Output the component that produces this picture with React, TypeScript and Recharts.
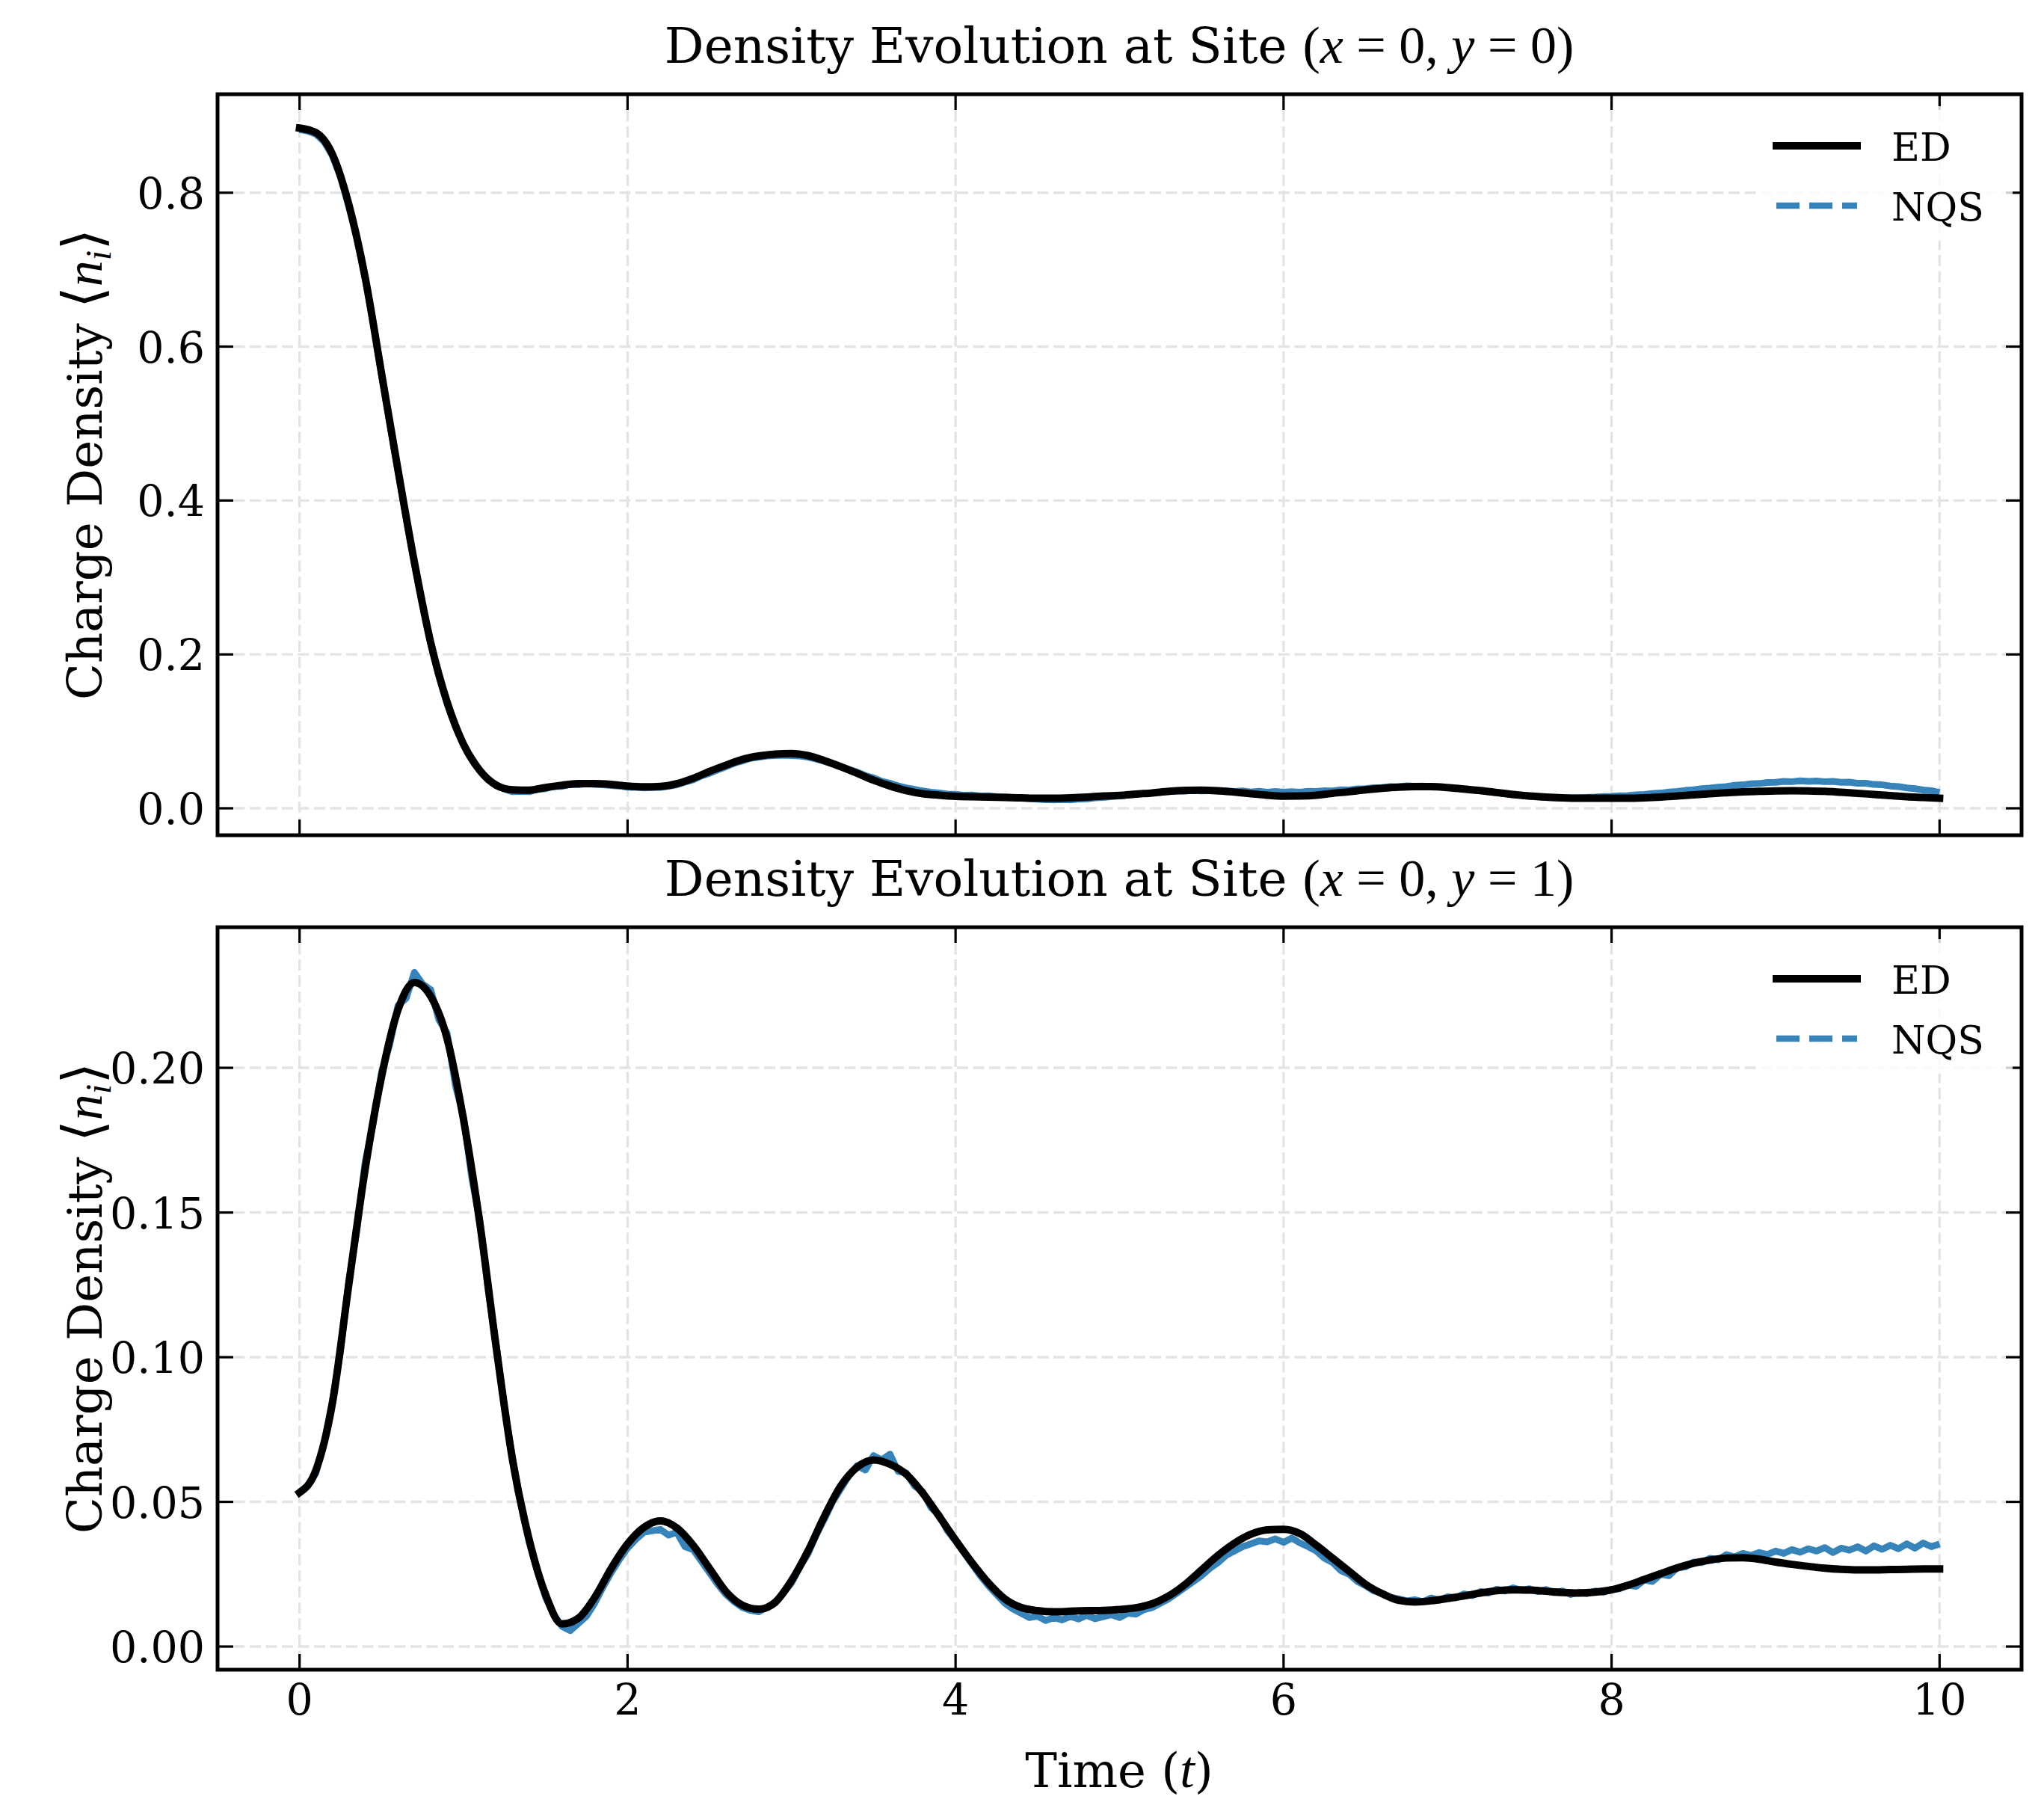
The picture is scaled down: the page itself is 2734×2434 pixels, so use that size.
import React from 'react';
import { LineChart, Line, XAxis, YAxis, CartesianGrid, ReferenceArea } from 'recharts';

// time grids
const tED = [
  0, 0.1, 0.2, 0.3, 0.4, 0.5, 0.6, 0.7, 0.8, 0.9,
  1, 1.1, 1.2, 1.3, 1.4, 1.5, 1.6, 1.7, 1.8, 1.9,
  2, 2.1, 2.2, 2.3, 2.4, 2.5, 2.6, 2.7, 2.8, 2.9,
  3, 3.1, 3.2, 3.3, 3.4, 3.5, 3.6, 3.7, 3.8, 3.9,
  4, 4.1, 4.2, 4.3, 4.4, 4.5, 4.6, 4.7, 4.8, 4.9,
  5, 5.1, 5.2, 5.3, 5.4, 5.5, 5.6, 5.7, 5.8, 5.9,
  6, 6.1, 6.2, 6.3, 6.4, 6.5, 6.6, 6.7, 6.8, 6.9,
  7, 7.1, 7.2, 7.3, 7.4, 7.5, 7.6, 7.7, 7.8, 7.9,
  8, 8.1, 8.2, 8.3, 8.4, 8.5, 8.6, 8.7, 8.8, 8.9,
  9, 9.1, 9.2, 9.3, 9.4, 9.5, 9.6, 9.7, 9.8, 9.9,
  10,
];

const tNQS = [
  0, 0.05, 0.1, 0.15, 0.2, 0.25, 0.3, 0.35, 0.4, 0.45, 0.5, 0.55, 0.6, 0.65, 0.7, 0.75, 0.8, 0.85, 0.9, 0.95,
  1, 1.05, 1.1, 1.15, 1.2, 1.25, 1.3, 1.35, 1.4, 1.45, 1.5, 1.55, 1.6, 1.65, 1.7, 1.75, 1.8, 1.85, 1.9, 1.95,
  2, 2.05, 2.1, 2.15, 2.2, 2.25, 2.3, 2.35, 2.4, 2.45, 2.5, 2.55, 2.6, 2.65, 2.7, 2.75, 2.8, 2.85, 2.9, 2.95,
  3, 3.05, 3.1, 3.15, 3.2, 3.25, 3.3, 3.35, 3.4, 3.45, 3.5, 3.55, 3.6, 3.65, 3.7, 3.75, 3.8, 3.85, 3.9, 3.95,
  4, 4.05, 4.1, 4.15, 4.2, 4.25, 4.3, 4.35, 4.4, 4.45, 4.5, 4.55, 4.6, 4.65, 4.7, 4.75, 4.8, 4.85, 4.9, 4.95,
  5, 5.05, 5.1, 5.15, 5.2, 5.25, 5.3, 5.35, 5.4, 5.45, 5.5, 5.55, 5.6, 5.65, 5.7, 5.75, 5.8, 5.85, 5.9, 5.95,
  6, 6.05, 6.1, 6.15, 6.2, 6.25, 6.3, 6.35, 6.4, 6.45, 6.5, 6.55, 6.6, 6.65, 6.7, 6.75, 6.8, 6.85, 6.9, 6.95,
  7, 7.05, 7.1, 7.15, 7.2, 7.25, 7.3, 7.35, 7.4, 7.45, 7.5, 7.55, 7.6, 7.65, 7.7, 7.75, 7.8, 7.85, 7.9, 7.95,
  8, 8.05, 8.1, 8.15, 8.2, 8.25, 8.3, 8.35, 8.4, 8.45, 8.5, 8.55, 8.6, 8.65, 8.7, 8.75, 8.8, 8.85, 8.9, 8.95,
  9, 9.05, 9.1, 9.15, 9.2, 9.25, 9.3, 9.35, 9.4, 9.45, 9.5, 9.55, 9.6, 9.65, 9.7, 9.75, 9.8, 9.85, 9.9, 9.95,
  10,
];

// site (x=0, y=0)
const edSite00 = [
  0.884, 0.878, 0.850, 0.785, 0.690, 0.565, 0.440, 0.320, 0.215, 0.138,
  0.083, 0.049, 0.030, 0.024, 0.0235, 0.027, 0.030, 0.032, 0.032, 0.031,
  0.029, 0.028, 0.0285, 0.032, 0.039, 0.048, 0.056, 0.0635, 0.068, 0.0705,
  0.0712, 0.0685, 0.062, 0.054, 0.0455, 0.0365, 0.029, 0.023, 0.019, 0.017,
  0.0155, 0.015, 0.0146, 0.014, 0.0135, 0.013, 0.013, 0.0135, 0.0145, 0.016,
  0.0168, 0.0185, 0.020, 0.022, 0.0232, 0.0236, 0.0228, 0.021, 0.019, 0.017,
  0.0158, 0.016, 0.017, 0.0195, 0.0215, 0.024, 0.026, 0.0275, 0.0282, 0.0282,
  0.027, 0.025, 0.023, 0.0205, 0.018, 0.016, 0.0145, 0.0135, 0.013, 0.013,
  0.013, 0.013, 0.0135, 0.0145, 0.016, 0.0175, 0.019, 0.0202, 0.0213, 0.022,
  0.0226, 0.0228, 0.0226, 0.022, 0.0208, 0.0195, 0.018, 0.0165, 0.015, 0.014,
  0.013,
];

const nqsSite00 = [
  0.882, 0.880, 0.876, 0.866, 0.848, 0.820, 0.782, 0.740, 0.688, 0.630, 0.563, 0.500, 0.438, 0.377, 0.318, 0.264, 0.213, 0.171, 0.135, 0.106,
  0.083, 0.065, 0.049, 0.037, 0.029, 0.025, 0.0215, 0.022, 0.0215, 0.0245, 0.0255, 0.0285, 0.0285, 0.031, 0.0305, 0.032, 0.031, 0.0305, 0.0295, 0.029,
  0.0275, 0.0272, 0.0265, 0.027, 0.0272, 0.0285, 0.0305, 0.034, 0.037, 0.042, 0.0455, 0.05, 0.054, 0.0585, 0.0615, 0.065, 0.0665, 0.068, 0.0685, 0.069,
  0.0685, 0.068, 0.0665, 0.064, 0.061, 0.058, 0.0545, 0.0505, 0.047, 0.0425, 0.0395, 0.035, 0.0325, 0.029, 0.0265, 0.0245, 0.0225, 0.021, 0.02, 0.0185,
  0.018, 0.017, 0.0172, 0.016, 0.0163, 0.015, 0.0148, 0.014, 0.0132, 0.0125, 0.0118, 0.0112, 0.0108, 0.0115, 0.011, 0.012, 0.0122, 0.0135, 0.014, 0.0152,
  0.016, 0.0172, 0.018, 0.0195, 0.02, 0.0212, 0.0215, 0.0225, 0.0222, 0.0232, 0.0225, 0.023, 0.0222, 0.0228, 0.0218, 0.0225, 0.0212, 0.022, 0.021, 0.0218,
  0.0208, 0.0215, 0.021, 0.022, 0.0218, 0.0228, 0.0225, 0.024, 0.0238, 0.0252, 0.0255, 0.0268, 0.027, 0.0282, 0.028, 0.0292, 0.0286, 0.029, 0.0282, 0.0278,
  0.0268, 0.0262, 0.0248, 0.024, 0.0226, 0.0215, 0.02, 0.019, 0.0175, 0.0166, 0.0155, 0.0148, 0.014, 0.0136, 0.0132, 0.0136, 0.0135, 0.0142, 0.0145, 0.0152,
  0.0155, 0.0162, 0.0166, 0.0175, 0.018, 0.0192, 0.0198, 0.0212, 0.0218, 0.0232, 0.024, 0.0255, 0.0262, 0.0275, 0.0282, 0.0298, 0.0305, 0.0318, 0.0322, 0.0335,
  0.0338, 0.035, 0.0346, 0.0356, 0.035, 0.0355, 0.0346, 0.035, 0.0338, 0.034, 0.0326, 0.0325, 0.031, 0.0305, 0.029, 0.0282, 0.0265, 0.0255, 0.0238, 0.0228,
  0.0205,
];

// site (x=0, y=1)
const edSite01 = [
  0.0532, 0.061, 0.084, 0.125, 0.165, 0.197, 0.220, 0.2295, 0.2247, 0.210,
  0.182, 0.146, 0.103, 0.064, 0.037, 0.018, 0.0078, 0.0098, 0.017, 0.027,
  0.0355, 0.0412, 0.0434, 0.041, 0.035, 0.027, 0.019, 0.0143, 0.0129, 0.0153,
  0.0228, 0.033, 0.045, 0.0555, 0.062, 0.0645, 0.063, 0.0595, 0.053, 0.045,
  0.0368, 0.029, 0.022, 0.0165, 0.0135, 0.0124, 0.012, 0.0122, 0.0124, 0.0125,
  0.0128, 0.0134, 0.0148, 0.0175, 0.0215, 0.0265, 0.0315, 0.0357, 0.0388, 0.0403,
  0.0405, 0.039, 0.035, 0.0305, 0.026, 0.0215, 0.0183, 0.016, 0.0154, 0.0158,
  0.0166, 0.0175, 0.0185, 0.0193, 0.0196, 0.0195, 0.0191, 0.0187, 0.0185, 0.0188,
  0.0196, 0.0212, 0.0232, 0.0252, 0.0272, 0.0288, 0.0299, 0.0306, 0.0307, 0.0302,
  0.0292, 0.0284, 0.0277, 0.0271, 0.0267, 0.0265, 0.0265, 0.0266, 0.0267, 0.0268,
  0.0268,
];

const nqsSite01 = [
  0.0535, 0.0555, 0.06, 0.0705, 0.085, 0.102, 0.1265, 0.144, 0.1675, 0.181, 0.1985, 0.208, 0.2215, 0.224, 0.233, 0.229, 0.227, 0.2165, 0.212, 0.194,
  0.183, 0.162, 0.147, 0.123, 0.104, 0.082, 0.065, 0.049, 0.036, 0.026, 0.017, 0.011, 0.007, 0.0055, 0.008, 0.0105, 0.015, 0.0205, 0.0255, 0.03,
  0.034, 0.037, 0.0395, 0.04, 0.0405, 0.0385, 0.0395, 0.0345, 0.0335, 0.0295, 0.0255, 0.0215, 0.018, 0.0155, 0.0135, 0.0125, 0.012, 0.0135, 0.015, 0.0185,
  0.022, 0.0275, 0.032, 0.0385, 0.044, 0.05, 0.0545, 0.059, 0.0625, 0.061, 0.066, 0.0645, 0.0665, 0.0605, 0.06, 0.0555, 0.0535, 0.048, 0.0455, 0.04,
  0.0365, 0.0325, 0.0285, 0.0245, 0.021, 0.018, 0.015, 0.013, 0.0115, 0.01, 0.0105, 0.009, 0.01, 0.0092, 0.0104, 0.0095, 0.0108, 0.0096, 0.0103, 0.011,
  0.01, 0.0115, 0.0112, 0.0128, 0.0135, 0.015, 0.0165, 0.0185, 0.0205, 0.0225, 0.0245, 0.027, 0.029, 0.0315, 0.033, 0.0345, 0.0355, 0.0365, 0.0362, 0.0372,
  0.036, 0.0375, 0.0358, 0.0345, 0.033, 0.0305, 0.029, 0.0262, 0.025, 0.0225, 0.021, 0.0192, 0.0185, 0.017, 0.0165, 0.0158, 0.0162, 0.0155, 0.0168, 0.016,
  0.0172, 0.0168, 0.0182, 0.0176, 0.019, 0.0185, 0.0198, 0.0192, 0.0203, 0.0195, 0.02, 0.019, 0.0197, 0.0186, 0.0192, 0.018, 0.0188, 0.0183, 0.0192, 0.0187,
  0.0198, 0.02, 0.0212, 0.0208, 0.023, 0.0225, 0.025, 0.0245, 0.0272, 0.0275, 0.0292, 0.029, 0.0305, 0.03, 0.0318, 0.031, 0.0322, 0.0315, 0.0325, 0.0318,
  0.033, 0.0322, 0.0335, 0.0326, 0.0338, 0.033, 0.0342, 0.0325, 0.034, 0.0333, 0.0345, 0.033, 0.0348, 0.0336, 0.035, 0.0338, 0.0355, 0.034, 0.0358, 0.0345,
  0.0355,
];

const timeTicks = [0, 2, 4, 6, 8, 10];
const ticksSite00 = [0, 0.2, 0.4, 0.6, 0.8];
const ticksSite01 = [0, 0.05, 0.1, 0.15, 0.2];

const W = 2734;
const H = 2434;
const SERIF = "'DejaVu Serif', serif";
const MATH = "'Liberation Serif', 'DejaVu Serif', serif";
const NQS_BLUE = '#3784bb';
const GRID = '#e4e4e4';
const PLOT_LEFT = 291;
const PLOT_RIGHT = 2704;
const TICK_LEN = 21;

const toRows = (ts: number[], vs: number[]) => ts.map((t, i) => ({ t, v: vs[i] }));

type PanelProps = {
  top: number;
  height: number;
  plotTop: number;
  plotBottom: number;
  ed: { t: number; v: number }[];
  nqs: { t: number; v: number }[];
  yDomain: [number, number];
  yTicks: number[];
  digits: number;
  xLabels: boolean;
};

const Panel = ({ top, height, plotTop, plotBottom, ed, nqs, yDomain, yTicks, digits, xLabels }: PanelProps) => {
  const xAxisH = 40;
  const xTick = (p: any) => (
    <g>
      <line x1={p.x} x2={p.x} y1={plotBottom} y2={plotBottom - TICK_LEN} stroke="#000" strokeWidth={3.2} />
      <line x1={p.x} x2={p.x} y1={plotTop} y2={plotTop + TICK_LEN} stroke="#000" strokeWidth={3.2} />
      {xLabels && (
        <text x={p.x} y={plotBottom + 60} textAnchor="middle" fontSize={57} fontFamily={SERIF} fill="#000">
          {p.payload.value}
        </text>
      )}
    </g>
  );
  const yTick = (p: any) => (
    <g>
      <line x1={PLOT_LEFT} x2={PLOT_LEFT + TICK_LEN} y1={p.y} y2={p.y} stroke="#000" strokeWidth={3.2} />
      <line x1={PLOT_RIGHT - TICK_LEN} x2={PLOT_RIGHT} y1={p.y} y2={p.y} stroke="#000" strokeWidth={3.2} />
      <text x={274} y={p.y + 21} textAnchor="end" fontSize={57} fontFamily={SERIF} fill="#000">
        {Number(p.payload.value).toFixed(digits)}
      </text>
    </g>
  );
  return (
    <div style={{ position: 'absolute', left: 0, top }}>
      <LineChart
        width={W}
        height={height}
        margin={{ top: plotTop, right: W - PLOT_RIGHT, left: 91, bottom: height - plotBottom - xAxisH }}
      >
        <CartesianGrid stroke={GRID} strokeWidth={3.4} strokeDasharray="15 6.5" />
        <XAxis
          dataKey="t"
          type="number"
          domain={[-0.5, 10.5]}
          allowDataOverflow
          ticks={timeTicks}
          interval={0}
          height={xAxisH}
          axisLine={false}
          tickLine={false}
          tick={xTick}
        />
        <YAxis
          type="number"
          domain={yDomain}
          allowDataOverflow
          ticks={yTicks}
          interval={0}
          width={200}
          axisLine={false}
          tickLine={false}
          tick={yTick}
        />
        <Line
          data={nqs}
          dataKey="v"
          type="linear"
          stroke={NQS_BLUE}
          strokeWidth={9}
          strokeLinejoin="round"
          dot={false}
          activeDot={false}
          isAnimationActive={false}
        />
        <Line
          data={ed}
          dataKey="v"
          type="monotone"
          stroke="#000"
          strokeWidth={10}
          strokeLinecap="square"
          dot={false}
          activeDot={false}
          isAnimationActive={false}
        />
        <ReferenceArea
          x1={-0.5}
          x2={10.5}
          y1={yDomain[0]}
          y2={yDomain[1]}
          fill="none"
          fillOpacity={0}
          stroke="#000"
          strokeWidth={5}
          ifOverflow="visible"
        />
      </LineChart>
    </div>
  );
};

const LegendBlock = ({ dy }: { dy: number }) => (
  <g transform={`translate(0, ${dy})`}>
    <rect x={2352} y={142} width={340} height={180} fill="#fff" fillOpacity={0.8} />
    <line x1={2376} x2={2484} y1={195} y2={195} stroke="#000" strokeWidth={10} strokeLinecap="square" />
    <text x={2530} y={215} fontSize={52} fontFamily={SERIF} fill="#000">ED</text>
    <line x1={2376} x2={2484} y1={275} y2={275} stroke={NQS_BLUE} strokeWidth={8.5} strokeDasharray="31 13" />
    <text x={2530} y={295} fontSize={52} fontFamily={SERIF} fill="#000">NQS</text>
  </g>
);

const Title = ({ y, site }: { y: number; site: string }) => (
  <text x={1497} y={y} textAnchor="middle" fontSize={66} fontFamily={SERIF} fill="#000">
    Density Evolution at Site{' '}
    <tspan fontFamily={MATH} fontSize={70}>
      (<tspan fontStyle="italic">x</tspan> = 0, <tspan fontStyle="italic">y</tspan> = {site})
    </tspan>
  </text>
);

const YLabel = ({ cy }: { cy: number }) => (
  <text transform={`translate(136, ${cy}) rotate(-90)`} textAnchor="middle" fontSize={64} fontFamily={SERIF} fill="#000">
    Charge Density{' '}
    <tspan fontFamily={MATH} fontSize={74}>⟨</tspan>
    <tspan fontFamily={MATH} fontStyle="italic" fontSize={70}>n</tspan>
    <tspan fontFamily={MATH} fontStyle="italic" fontSize={48} dy={12}>i</tspan>
    <tspan fontFamily={MATH} fontSize={74} dy={-12}>⟩</tspan>
  </text>
);

export default function App() {
  return (
    <div style={{ position: 'relative', width: W, height: H, background: '#fff' }}>
      <style>{'body{margin:0;}'}</style>
      <Panel
        top={0}
        height={1178}
        plotTop={126}
        plotBottom={1117}
        ed={toRows(tED, edSite00)}
        nqs={toRows(tNQS, nqsSite00)}
        yDomain={[-0.035, 0.928]}
        yTicks={ticksSite00}
        digits={1}
        xLabels={false}
      />
      <Panel
        top={1178}
        height={1256}
        plotTop={62}
        plotBottom={1055}
        ed={toRows(tED, edSite01)}
        nqs={toRows(tNQS, nqsSite01)}
        yDomain={[-0.008, 0.2486]}
        yTicks={ticksSite01}
        digits={2}
        xLabels
      />
      <svg
        width={W}
        height={H}
        style={{ position: 'absolute', left: 0, top: 0, pointerEvents: 'none' }}
      >
        <Title y={84} site="0" />
        <Title y={1198} site="1" />
        <YLabel cy={621} />
        <YLabel cy={1736} />
        <text x={1497} y={2390} textAnchor="middle" fontSize={64} fontFamily={SERIF} fill="#000">
          Time (<tspan fontFamily={MATH} fontStyle="italic" fontSize={70}>t</tspan>)
        </text>
        <LegendBlock dy={0} />
        <LegendBlock dy={1114} />
      </svg>
    </div>
  );
}
